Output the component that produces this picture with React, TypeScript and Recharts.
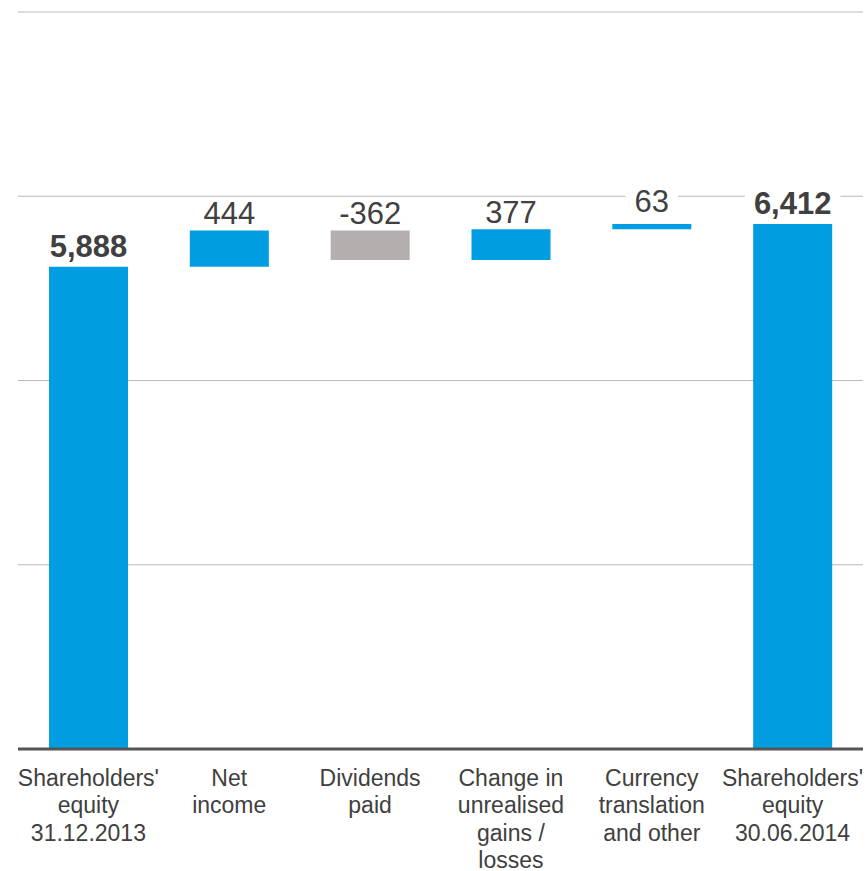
import React from 'react';
import { BarChart, Bar, XAxis, YAxis, CartesianGrid, Cell, LabelList } from 'recharts';

const categories = [
  "Shareholders'\nequity\n31.12.2013",
  'Net\nincome',
  'Dividends\npaid',
  'Change in\nunrealised\ngains /\nlosses',
  'Currency\ntranslation\nand other',
  "Shareholders'\nequity\n30.06.2014",
];
const values = [5888, 444, -362, 377, 63, 6412];
const kinds = ['total', 'delta', 'delta', 'delta', 'delta', 'total'];
const valueLabels = ['5,888', '444', '-362', '377', '63', '6,412'];
const yTicks = [0, 2250, 4500, 6750, 9000];

const BLUE = '#009ee0';
const GREY = '#b4aeae';
const TEXT = '#404040';
const FONT = '"Liberation Sans", Arial, sans-serif';

// running total -> invisible base + visible piece
let running = 0;
const data = categories.map((name, i) => {
  const v = values[i];
  if (kinds[i] === 'total') {
    running = v;
    return { name, base: 0, size: v };
  }
  const prev = running;
  running = prev + v;
  return { name, base: Math.min(prev, running), size: Math.abs(v) };
});

const charWidth = (c: string) => (c === ',' ? 0.278 : c === '-' ? 0.333 : 0.556);

const ValueLabel = (props: any) => {
  const vb = props.viewBox || props;
  const x = Number(vb.x);
  const y = Number(vb.y);
  const width = Number(vb.width);
  const height = Number(vb.height);
  const index = props.index;
  if (index == null || isNaN(x)) return null;
  const total = kinds[index] === 'total';
  const fs = 31;
  const text = valueLabels[index];
  const tw = text.split('').reduce((s, c) => s + charWidth(c), 0) * fs;
  const offset = total ? 10 : height < 10 ? 12 : 6;
  const cx = x + width / 2;
  const base = y - offset;
  return (
    <g>
      <rect x={cx - tw / 2 - 9} y={base - fs * 0.8} width={tw + 18} height={fs * 0.95} fill="#ffffff" />
      <text
        x={cx}
        y={base}
        textAnchor="middle"
        fontSize={fs}
        fontWeight={total ? 700 : 400}
        fontFamily={FONT}
        fill={TEXT}
      >
        {text}
      </text>
    </g>
  );
};

const CategoryTick = (props: any) => {
  const { x, y, payload } = props;
  const lines = String(payload.value).split('\n');
  return (
    <text x={x} y={y} textAnchor="middle" fontSize={23} fontFamily={FONT} fill={TEXT}>
      {lines.map((l, i) => (
        <tspan key={i} x={x} dy={i === 0 ? 37 : 27.3}>
          {l}
        </tspan>
      ))}
    </text>
  );
};

export default function App() {
  return (
    <div style={{ position: 'absolute', left: 0, top: 0, width: 868, height: 871, background: '#fff' }}>
      <BarChart
        width={868}
        height={871}
        data={data}
        margin={{ top: 12, right: 5, left: 18, bottom: 0 }}
        barSize={79}
      >
        <CartesianGrid vertical={false} stroke="#bdb7b7" strokeWidth={1.2} />
        <XAxis
          dataKey="name"
          height={122}
          interval={0}
          tickLine={false}
          tickSize={0}
          tickMargin={0}
          axisLine={{ stroke: '#555555', strokeWidth: 3 }}
          tick={<CategoryTick />}
        />
        <YAxis hide domain={[0, 9000]} ticks={yTicks} />
        <Bar dataKey="base" stackId="w" fill="transparent" isAnimationActive={false} />
        <Bar dataKey="size" stackId="w" isAnimationActive={false}>
          {data.map((d, i) => (
            <Cell key={i} fill={values[i] < 0 ? GREY : BLUE} />
          ))}
          <LabelList dataKey="size" content={<ValueLabel />} />
        </Bar>
      </BarChart>
    </div>
  );
}
